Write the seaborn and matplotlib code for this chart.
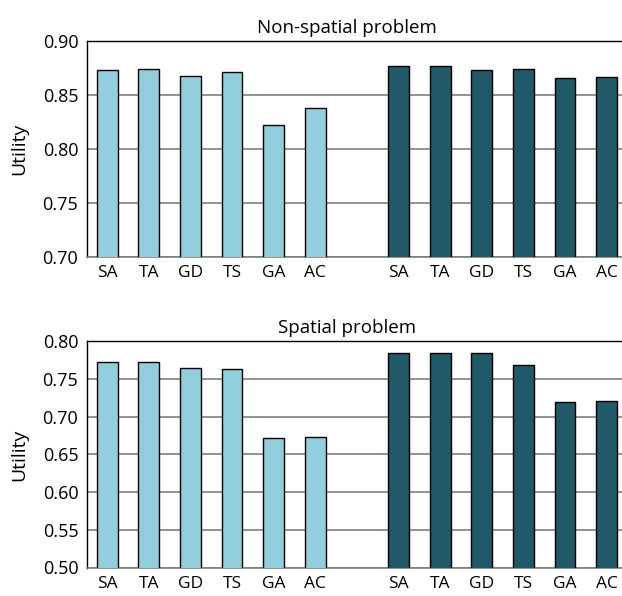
import numpy as np
import pandas as pd
import matplotlib
matplotlib.use("Agg")
import matplotlib.pyplot as plt
import seaborn as sns

methods = ["SA", "TA", "GD", "TS", "GA", "AC"]
groups = ["left", "right"]

nonspatial_left = [0.873, 0.874, 0.868, 0.871, 0.822, 0.838]
nonspatial_right = [0.877, 0.877, 0.873, 0.874, 0.866, 0.867]
spatial_left = [0.773, 0.772, 0.765, 0.763, 0.672, 0.673]
spatial_right = [0.784, 0.785, 0.784, 0.768, 0.720, 0.721]

titles = ["Non-spatial problem", "Spatial problem"]
ylims = [(0.70, 0.90), (0.50, 0.80)]

light = "#92CDDC"
dark = "#215968"

sns.set_theme(style="white")
plt.rcParams["font.family"] = ["Open Sans", "DejaVu Sans"]
plt.rcParams["font.size"] = 12
plt.rcParams["text.color"] = "black"
plt.rcParams["axes.labelcolor"] = "black"
plt.rcParams["xtick.color"] = "black"
plt.rcParams["ytick.color"] = "black"


def make_df(left, right):
    # a blank slot between the two groups of bars
    n = len(methods)
    pos = list(range(n)) + list(range(n + 1, 2 * n + 1))
    return pd.DataFrame({
        "pos": pos,
        "method": methods + methods,
        "group": [groups[0]] * n + [groups[1]] * n,
        "utility": left + right,
    })


fig = plt.figure(figsize=(6.22, 5.96), dpi=100)
ax1 = fig.add_axes([86.7 / 622, 1 - 257 / 596, 1 - 86.7 / 622, 216 / 596])
ax2 = fig.add_axes([86.7 / 622, 1 - 567.5 / 596, 1 - 86.7 / 622, 226.2 / 596])

data = [make_df(nonspatial_left, nonspatial_right), make_df(spatial_left, spatial_right)]

for ax, df, title, ylim in zip([ax1, ax2], data, titles, ylims):
    sns.barplot(data=df, x="pos", y="utility", hue="group", native_scale=True,
                palette={"left": light, "right": dark}, dodge=False, width=0.5,
                saturation=1, edgecolor="black", linewidth=1.0, legend=False,
                ax=ax, zorder=3)
    ax.set_ylim(*ylim)
    ax.set_yticks(np.arange(ylim[0], ylim[1] + 0.001, 0.05))
    ax.set_yticklabels([f"{v:.2f}" for v in ax.get_yticks()], fontsize=13)
    ax.set_xlim(-0.49, 12.37)
    ax.set_xticks(df["pos"])
    ax.set_xticklabels(df["method"], fontsize=12.5)
    ax.tick_params(axis="y", length=0, pad=6)
    ax.tick_params(axis="x", length=0, pad=6)
    ax.grid(axis="y", color="#7f7f7f", linewidth=1.2, zorder=0)
    ax.set_axisbelow(True)
    ax.spines["right"].set_visible(False)
    ax.spines["top"].set_color("black")
    ax.spines["top"].set_linewidth(1.0)
    ax.spines["left"].set_color("black")
    ax.spines["left"].set_linewidth(1.0)
    ax.spines["bottom"].set_color("#7f7f7f")
    ax.spines["bottom"].set_linewidth(1.2)
    ax.set_xlabel("")
    ax.set_ylabel("Utility", fontsize=14, labelpad=10)
    ax.set_title(title, fontsize=13.5, x=0.487, pad=6)

fig.savefig("out.png", dpi=100)
